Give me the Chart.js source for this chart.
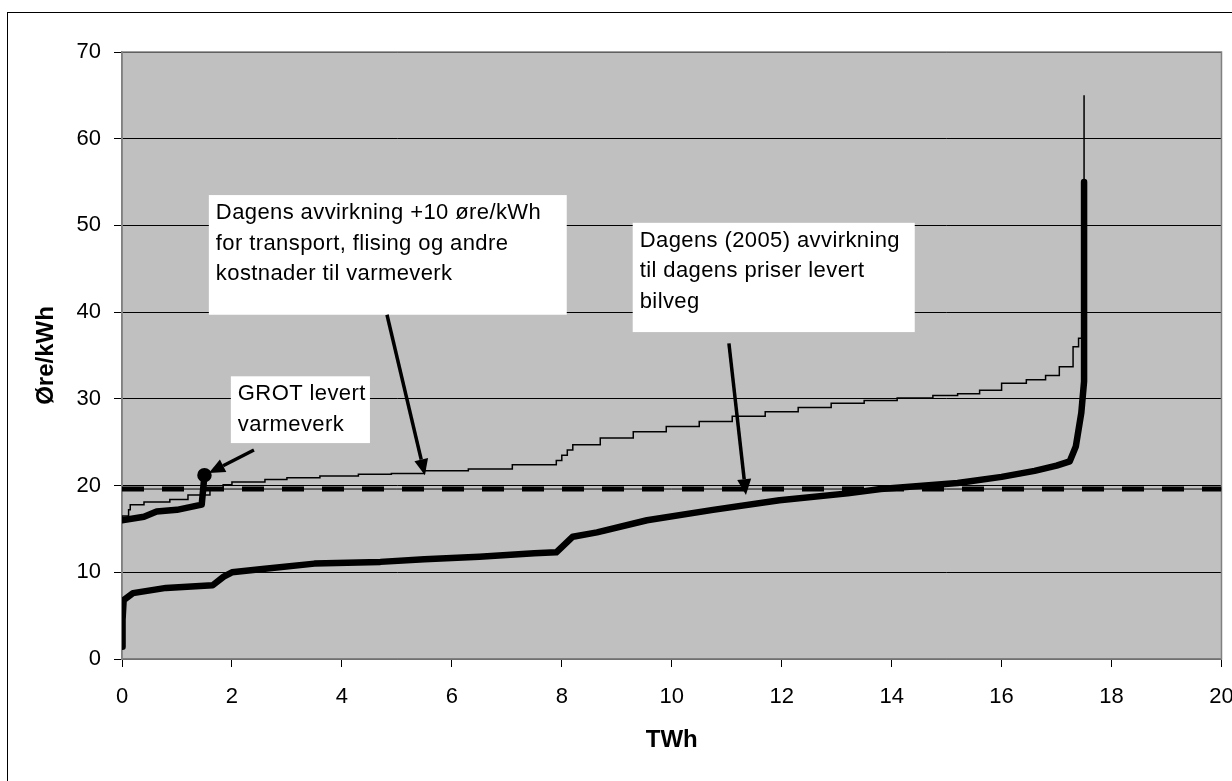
<!DOCTYPE html>
<html>
<head>
<meta charset="utf-8">
<script src="https://cdn.jsdelivr.net/npm/chart.js@4.4.0/dist/chart.umd.min.js"></script>
<style>
  html, body { margin: 0; padding: 0; background: #fff; }
  #wrap { width: 1232px; height: 781px; }
</style>
</head>
<body>
<div id="wrap"><canvas id="chart" width="1232" height="781"></canvas></div>
<script>
// TWh on x, øre/kWh on y
const avvirkningX = [0, 0.01, 0.03, 0.2, 0.8, 1.65, 1.85, 2.0, 2.6, 3.5, 4.7, 5.5, 6.5, 7.5, 7.9, 8.2, 8.64, 9.55, 10.75, 11.96, 13.2, 13.8, 15.2, 16.0, 16.6, 17.0, 17.24, 17.35, 17.45, 17.5, 17.5];
const avvirkningY = [1.4, 4.5, 6.8, 7.6, 8.2, 8.5, 9.5, 10.0, 10.4, 11.0, 11.2, 11.5, 11.8, 12.2, 12.3, 14.1, 14.6, 16.0, 17.2, 18.3, 19.1, 19.6, 20.3, 21.0, 21.7, 22.3, 22.8, 24.5, 28.4, 32.0, 55.0];

// same volumes, +10 øre/kWh for transport, chipping etc.
const varmeverkX = [0, 0.12, 0.15, 0.4, 0.87, 1.2, 1.6, 1.84, 2.0, 2.6, 3.0, 3.6, 4.3, 4.9, 5.5, 6.3, 7.1, 7.9, 8.0, 8.1, 8.2, 8.7, 9.3, 9.9, 10.5, 11.1, 11.7, 12.3, 12.9, 13.5, 14.1, 14.75, 15.2, 15.6, 16.0, 16.45, 16.8, 17.05, 17.3, 17.4, 17.45, 17.5, 17.5];
const varmeverkY = [16.0, 16.5, 17.2, 17.8, 18.1, 18.4, 18.9, 19.5, 20.1, 20.4, 20.7, 20.9, 21.1, 21.3, 21.4, 21.7, 21.9, 22.4, 22.9, 23.5, 24.1, 24.7, 25.5, 26.2, 26.8, 27.4, 28.0, 28.5, 29.0, 29.5, 29.8, 30.1, 30.4, 30.6, 31.0, 31.8, 32.2, 32.7, 33.7, 36.0, 37.0, 37.0, 65.0];

const grotX = [0, 0.4, 0.63, 1.0, 1.3, 1.45, 1.5];
const grotY = [16.0, 16.4, 17.0, 17.2, 17.6, 17.8, 21.2];

const refX = [0, 20];
const refY = [19.6, 19.6];

const xTicks = [0, 2, 4, 6, 8, 10, 12, 14, 16, 18, 20];
const yTicks = [0, 10, 20, 30, 40, 50, 60, 70];

const FONT = '"Liberation Sans", Arial, sans-serif';

function points(xs, ys) {
    return xs.map((x, i) => ({ x: x, y: ys[i] }));
}

// text boxes with arrows, in axis units
const notes = [
    { left: 1.58, top: 53.5, right: 8.09, bottom: 39.7,
      text: ['Dagens avvirkning +10 øre/kWh', 'for transport, flising og andre', 'kostnader til varmeverk'],
      from: [4.82, 39.7], to: [5.51, 21.2] },
    { left: 1.98, top: 32.6, right: 4.51, bottom: 24.9,
      text: ['GROT levert', 'varmeverk'],
      from: [2.4, 24.1], to: [1.58, 21.45] },
    { left: 9.29, top: 50.3, right: 14.42, bottom: 37.7,
      text: ['Dagens (2005) avvirkning', 'til dagens priser levert', 'bilveg'],
      from: [11.04, 36.4], to: [11.35, 18.9] }
];

function drawArrow(ctx, x1, y1, x2, y2) {
    const ang = Math.atan2(y2 - y1, x2 - x1);
    const len = 16, half = 7;
    const bx = x2 - len * Math.cos(ang);
    const by = y2 - len * Math.sin(ang);
    ctx.beginPath();
    ctx.moveTo(x1, y1);
    ctx.lineTo(bx, by);
    ctx.stroke();
    ctx.beginPath();
    ctx.moveTo(x2, y2);
    ctx.lineTo(bx + half * Math.sin(ang), by - half * Math.cos(ang));
    ctx.lineTo(bx - half * Math.sin(ang), by + half * Math.cos(ang));
    ctx.closePath();
    ctx.fill();
}

const frame = {
    id: 'frame',
    beforeDraw(chart) {
        const { ctx, chartArea: a } = chart;
        ctx.save();
        ctx.fillStyle = '#fff';
        ctx.fillRect(0, 0, chart.width, chart.height);
        ctx.strokeStyle = '#000';
        ctx.lineWidth = 1;
        ctx.strokeRect(7.5, 12.5, chart.width + 20, chart.height + 20);
        ctx.fillStyle = '#c0c0c0';
        ctx.fillRect(a.left, a.top, a.right - a.left, a.bottom - a.top);
        ctx.restore();
    },
    beforeDatasetsDraw(chart) {
        const { ctx, chartArea: a } = chart;
        ctx.save();
        ctx.strokeStyle = '#808080';
        ctx.lineWidth = 1.5;
        ctx.strokeRect(a.left, a.top, a.right - a.left, a.bottom - a.top);
        ctx.restore();
    }
};

const callouts = {
    id: 'callouts',
    afterDatasetsDraw(chart) {
        const { ctx } = chart;
        const xs = chart.scales.x, ys = chart.scales.y;
        ctx.save();
        for (const n of notes) {
            const l = xs.getPixelForValue(n.left), r = xs.getPixelForValue(n.right);
            const t = ys.getPixelForValue(n.top), b = ys.getPixelForValue(n.bottom);
            ctx.fillStyle = '#fff';
            ctx.fillRect(l, t, r - l, b - t);
            ctx.fillStyle = '#000';
            ctx.font = '22px ' + FONT;
            ctx.letterSpacing = '0.4px';
            ctx.textBaseline = 'alphabetic';
            ctx.textAlign = 'left';
            n.text.forEach((line, i) => ctx.fillText(line, l + 7, t + 24 + i * 30.5));
            ctx.letterSpacing = '0px';
            ctx.strokeStyle = '#000';
            ctx.lineWidth = 3.5;
            drawArrow(ctx,
                xs.getPixelForValue(n.from[0]), ys.getPixelForValue(n.from[1]),
                xs.getPixelForValue(n.to[0]), ys.getPixelForValue(n.to[1]));
        }
        ctx.restore();
    }
};

const ctx = document.getElementById('chart').getContext('2d');
// eslint-disable-next-line no-undef
new Chart(ctx, {
    type: 'line',
    data: {
        datasets: [
            {
                label: 'Dagens (2005) avvirkning til dagens priser levert bilveg',
                data: points(avvirkningX, avvirkningY),
                borderColor: '#000',
                borderWidth: 6.5,
                borderJoinStyle: 'round',
                borderCapStyle: 'round',
                pointRadius: 0
            },
            {
                label: 'GROT levert varmeverk',
                data: points(grotX, grotY),
                borderColor: '#000',
                backgroundColor: '#000',
                borderWidth: 6.5,
                borderJoinStyle: 'round',
                borderCapStyle: 'round',
                pointRadius: (c) => (c.dataIndex === grotX.length - 1 ? 4 : 0)
            },
            {
                label: 'Dagens avvirkning +10 øre/kWh',
                data: points(varmeverkX, varmeverkY),
                borderColor: '#000',
                borderWidth: 1.5,
                stepped: 'after',
                pointRadius: 0
            },
            {
                label: 'Nivå',
                data: points(refX, refY),
                borderColor: '#000',
                borderWidth: 5,
                borderDash: [22, 18],
                pointRadius: 0
            },
            {
                label: 'Nivå (linje)',
                data: points(refX, refY),
                borderColor: '#000',
                borderWidth: 1,
                pointRadius: 0
            }
        ]
    },
    options: {
        responsive: false,
        animation: false,
        devicePixelRatio: 1,
        layout: { padding: { top: 52, right: 10, bottom: 0, left: 0 } },
        plugins: {
            legend: { display: false },
            tooltip: { enabled: false }
        },
        scales: {
            x: {
                type: 'linear',
                min: xTicks[0],
                max: xTicks[xTicks.length - 1],
                ticks: { stepSize: 2, color: '#000', padding: 17, font: { family: FONT, size: 22 } },
                grid: { drawOnChartArea: false, color: '#000', tickLength: 8 },
                border: { color: '#808080', width: 1.5 },
                title: { display: true, text: 'TWh', color: '#000', padding: { top: 0, bottom: 26 },
                         font: { family: FONT, size: 24, weight: 'bold', lineHeight: 1.2 } },
                afterFit(scale) {
                    scale.height = 122;
                    scale.paddingLeft = 0;
                    scale.paddingRight = 0;
                }
            },
            y: {
                min: yTicks[0],
                max: yTicks[yTicks.length - 1],
                ticks: { stepSize: 10, color: '#000', padding: 13, font: { family: FONT, size: 22 } },
                grid: { color: '#000', lineWidth: 1, tickLength: 8 },
                border: { color: '#808080', width: 1.5 },
                title: { display: true, text: 'Øre/kWh', color: '#000', padding: { top: 32, bottom: 0 },
                         font: { family: FONT, size: 24, weight: 'bold', lineHeight: 1.2 } },
                afterFit(scale) {
                    scale.width = 122;
                    scale.paddingTop = 0;
                    scale.paddingBottom = 0;
                }
            }
        }
    },
    plugins: [frame, callouts]
});
</script>
</body>
</html>
